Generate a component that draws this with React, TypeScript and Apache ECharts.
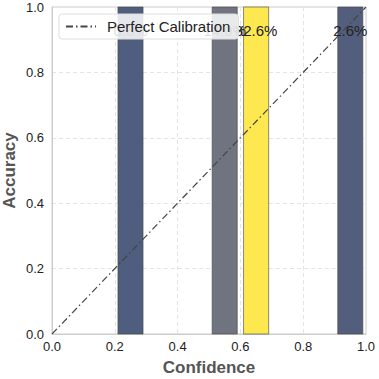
import React, { useEffect, useRef } from "react";
import * as echarts from "echarts";

const binCenters = [0.25, 0.55, 0.65, 0.95];
const accuracies = [1.0, 1.0, 1.0, 1.0];
const shareLabels = ["0.8%", "14.0%", "82.6%", "2.6%"];
const barColors = ["#4f5e7f", "#6f7480", "#fde84f", "#535e7d"];
const binWidth = 0.08;
const diagonal = [[0, 0], [1, 1]];
const tickLabels = ["0.0", "0.2", "0.4", "0.6", "0.8", "1.0"];

export default function App() {
  const ref = useRef<HTMLDivElement>(null);
  useEffect(() => {
    const chart = echarts.init(ref.current!, null, { renderer: "svg" });
    const font = "Liberation Sans, Arial, sans-serif";
    const data = binCenters.map((c, i) => [c, accuracies[i], i]);
    chart.setOption({
      animation: false,
      textStyle: { fontFamily: font },
      grid: { left: 52, right: 13, top: 7, bottom: 45, containLabel: false, outerBoundsMode: "none" },
      legend: {
        data: [{ name: "Perfect Calibration", itemStyle: { opacity: 0 } }],
        left: 59,
        top: 14,
        itemWidth: 30,
        itemHeight: 10,
        itemGap: 10,
        padding: [5, 8, 5, 6],
        backgroundColor: "rgba(255,255,255,0.85)",
        borderColor: "#dddddd",
        borderWidth: 1,
        borderRadius: 3,
        textStyle: { fontSize: 15, color: "#222", fontFamily: font, padding: [0, 0, 0, 6] },
        z: 10,
      },
      xAxis: {
        type: "value",
        min: 0,
        max: 1,
        interval: 0.2,
        name: "Confidence",
        nameLocation: "middle",
        nameGap: 25,
        nameMoveOverlap: false,
        nameTextStyle: { fontSize: 17, fontWeight: "bold", color: "#555", fontFamily: font },
        axisLine: { show: true, onZero: false, lineStyle: { color: "#cccccc", width: 1 } },
        axisTick: { show: false },
        axisLabel: {
          fontSize: 13,
          color: "#222",
          margin: 6,
          formatter: (v: number) => tickLabels[Math.round(v * 5)],
        },
        splitLine: { show: true, lineStyle: { color: "#e4e4e4", type: [4, 3] } },
      },
      yAxis: {
        type: "value",
        min: 0,
        max: 1,
        interval: 0.2,
        name: "Accuracy",
        nameLocation: "middle",
        nameGap: 34,
        nameMoveOverlap: false,
        nameTextStyle: { fontSize: 17, fontWeight: "bold", color: "#555", fontFamily: font },
        axisLine: { show: true, onZero: false, lineStyle: { color: "#cccccc", width: 1 } },
        axisTick: { show: false },
        axisLabel: {
          fontSize: 13,
          color: "#222",
          margin: 8,
          formatter: (v: number) => tickLabels[Math.round(v * 5)],
        },
        splitLine: { show: true, lineStyle: { color: "#e4e4e4", type: [4, 3] } },
      },
      graphic: [
        {
          type: "rect",
          shape: { x: 52, y: 7, width: 314, height: 327 },
          style: { fill: "none", stroke: "#cccccc", lineWidth: 1 },
          silent: true,
          z: 0,
        },
      ],
      series: [
        {
          type: "custom",
          name: "bins",
          data,
          z: 2,
          renderItem: (params: any, api: any) => {
            const x = api.value(0);
            const y = api.value(1);
            const i = api.value(2);
            const p0 = api.coord([x - binWidth / 2, y]);
            const p1 = api.coord([x + binWidth / 2, 0]);
            return {
              type: "rect",
              shape: { x: p0[0], y: p0[1], width: p1[0] - p0[0], height: p1[1] - p0[1] },
              style: { fill: barColors[i], stroke: "#444", lineWidth: 0.6 },
            };
          },
        },
        {
          type: "custom",
          name: "labels",
          data,
          z: 3,
          renderItem: (params: any, api: any) => {
            const x = api.value(0);
            const y = api.value(1);
            const i = api.value(2);
            const p = api.coord([x, y]);
            return {
              type: "text",
              x: p[0],
              y: p[1] + 23,
              style: {
                text: shareLabels[i],
                fill: "#222",
                fontSize: 15,
                fontFamily: font,
                align: "center",
                verticalAlign: "middle",
              },
            };
          },
        },
        {
          type: "line",
          name: "Perfect Calibration",
          data: diagonal,
          z: 4,
          symbol: "none",
          lineStyle: { color: "#444", width: 1.2, type: [7, 3, 1.5, 3] },
          itemStyle: { color: "#444" },
        },
      ],
    });
    return () => chart.dispose();
  }, []);
  return <div ref={ref} style={{ width: 379, height: 379, position: "absolute", left: 0, top: 0 }} />;
}
